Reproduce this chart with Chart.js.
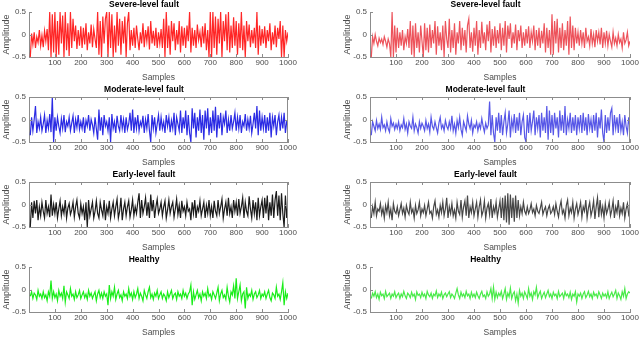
<!DOCTYPE html>
<html>
<head>
<meta charset="utf-8">
<script src="https://cdn.jsdelivr.net/npm/chart.js@4"></script>
<style>
  html, body { margin: 0; padding: 0; background: #fff; }
  #wrap { position: relative; width: 640px; height: 340px; }
  #wrap canvas { position: absolute; }
</style>
</head>
<body>
<div id="wrap"></div>
<script>
(function () {
  'use strict';

  // one value every 5 samples, 200 per signal
  var sampleStep = 5;
  var xTicks = [100, 200, 300, 400, 500, 600, 700, 800, 900, 1000];
  var yTicks = [-0.5, 0, 0.5];

  var titles = ['Severe-level fault', 'Moderate-level fault', 'Early-level fault', 'Healthy'];

  // left column
  var severeA = [
    -.5,.02,-.22,.05,-.3,-.05,-.18,.1,-.25,-.02,-.28,.08,-.15,.12,-.35,.5,-.5,.45,-.4,.5,
    -.5,.3,-.45,.5,-.2,.42,-.5,.5,-.35,.25,-.48,.5,-.3,.35,-.15,.2,-.32,.1,-.25,.18,
    -.3,.15,-.22,.25,-.35,.05,-.2,.22,-.28,.12,-.1,-.3,.5,-.45,.3,-.5,.4,-.2,.35,.5,
    -.5,.5,-.3,.45,-.5,.2,-.4,.5,-.25,.35,-.45,.3,-.2,.4,-.5,.25,.5,-.35,.1,-.25,
    .15,-.3,.2,-.1,-.35,.05,-.2,.25,-.28,.1,-.15,.18,-.33,.3,-.2,.08,-.25,.15,-.3,.05,
    -.2,.12,-.3,.35,-.5,.5,-.3,.2,-.45,.3,-.15,.25,-.35,.1,-.22,.3,-.4,.18,-.25,.15,
    -.3,.2,-.15,.5,-.4,.15,-.25,.1,-.3,.22,-.12,.05,-.28,.18,-.2,.25,-.35,.1,-.5,.5,
    -.5,.5,-.3,.4,-.45,.35,-.2,.5,-.5,.3,-.15,.45,-.35,.5,-.4,.2,-.3,.38,-.25,.3,
    -.45,.25,-.3,.5,-.35,.2,-.5,.3,-.15,.22,-.28,.1,-.2,.15,-.3,.5,-.45,.2,-.25,.12,
    -.2,.18,-.3,.1,-.15,.25,-.35,.05,-.22,.2,-.28,.15,-.1,.3,-.5,.2,-.5,.1,-.15,.05
  ];
  var moderateA = [
    -.35,.05,-.25,0,.3,-.3,-.05,-.2,.05,-.25,-.1,.1,-.3,-.02,-.2,.12,-.28,.5,-.5,.05,
    -.25,.05,-.15,-.3,.02,-.2,.1,-.28,-.05,-.15,.05,-.25,-.08,.08,-.3,0,-.18,.1,-.22,-.05,
    -.2,.05,-.3,-.02,-.15,.1,-.25,0,-.12,-.3,.05,-.2,-.45,.22,-.25,.05,-.35,.1,-.15,-.05,
    -.25,.05,-.5,.12,-.2,-.05,-.3,.08,-.15,-.25,.1,-.2,0,-.3,.05,-.22,-.1,.15,-.25,.22,
    -.3,.05,-.2,.1,-.25,-.05,-.15,.08,-.3,0,-.2,.12,-.25,-.5,.1,-.2,.05,-.3,-.1,.1,
    -.25,.05,-.2,-.05,-.3,.1,-.15,.05,-.28,-.02,-.2,.15,-.35,.05,-.1,-.25,.2,-.3,.05,-.2,
    .2,-.35,.1,-.3,-.5,.25,-.2,.15,-.4,.05,-.25,.22,-.3,.1,-.45,.2,-.2,.25,-.35,.05,
    -.3,.2,-.25,.28,-.4,.1,-.2,.15,-.35,.05,-.1,.2,-.3,0,-.25,.1,-.2,-.05,.15,-.25,
    .05,-.2,.1,-.3,-.05,-.15,.12,-.25,0,-.2,.08,-.3,-.1,.15,-.2,.3,-.35,.2,-.25,.05,
    -.2,.1,-.3,.05,-.25,.15,-.4,.05,-.15,.1,-.35,-.05,.1,-.25,.05,-.2,.15,-.3,-.05,-.1
  ];
  var earlyA = [
    -.5,.05,-.3,.08,-.2,.1,-.35,-.05,-.25,.05,-.15,-.3,.1,-.2,-.05,-.28,.22,-.25,0,-.2,
    .05,-.3,-.1,.08,-.25,-.05,-.2,.1,-.3,-.08,.02,-.22,-.12,.05,-.28,-.05,.1,-.2,-.3,.02,
    -.2,-.05,-.35,.05,-.5,.1,-.25,-.1,.05,-.3,-.15,.08,-.2,-.3,.05,-.12,-.25,.1,-.35,-.05,
    -.2,.08,-.3,-.1,.05,-.25,-.05,.12,-.3,-.15,.15,-.35,-.1,.05,-.25,-.05,.08,-.28,-.12,.1,
    -.25,-.05,-.2,.05,.25,-.3,.1,-.2,-.05,.15,-.25,.05,-.3,.22,-.15,.1,-.3,-.05,.12,-.2,
    -.1,.05,-.25,-.05,.08,-.3,-.12,.1,-.2,-.05,.05,-.28,-.1,.12,-.22,-.02,-.3,.08,-.15,-.05,
    -.25,.05,-.15,-.1,-.35,.05,-.2,.1,-.3,-.05,-.15,.08,-.25,-.1,.05,-.3,-.02,-.2,.1,-.25,
    -.05,-.3,.08,-.15,-.25,.1,-.2,-.05,.12,-.3,-.1,.05,-.25,.15,-.2,-.05,-.3,.1,-.15,.05,
    -.25,.12,-.2,-.05,.15,-.3,.05,-.15,-.25,.18,-.1,-.3,.1,-.2,.05,-.35,.15,-.25,-.05,.1,
    -.3,.15,-.2,.2,-.35,.05,-.25,.22,-.3,.1,.3,-.25,.2,-.35,.25,-.2,-.5,.2,-.3,.05
  ];
  var healthyA = [
    -.15,-.05,-.2,-.08,-.12,-.22,-.02,-.15,-.1,-.2,-.05,-.18,-.12,-.25,-.05,-.15,.2,-.2,-.05,-.18,
    -.1,-.25,-.02,-.15,-.08,-.2,.08,-.28,-.05,-.12,-.2,.02,-.15,-.1,-.22,-.05,-.18,-.12,-.02,-.2,
    -.12,-.05,-.18,-.1,-.22,-.02,-.15,-.08,-.2,-.12,-.05,-.25,-.1,-.02,-.18,-.08,-.2,-.05,-.15,-.1,
    -.35,.1,-.2,-.05,-.15,.05,-.22,-.1,-.02,-.18,-.12,-.25,-.05,-.15,-.1,-.2,.02,-.15,-.08,-.22,
    -.05,-.18,-.1,.02,-.2,-.08,-.15,-.25,-.02,-.12,-.2,-.05,.05,-.18,-.1,-.22,-.08,-.15,-.02,-.2,
    -.12,-.05,-.2,-.1,-.15,-.25,-.05,-.18,-.1,-.02,-.2,-.12,-.08,-.22,-.05,-.15,-.1,-.2,-.02,-.15,
    -.08,-.2,-.1,-.05,.1,-.35,-.05,-.22,-.12,-.02,-.18,-.1,-.25,-.05,-.15,-.08,-.2,.02,-.15,-.1,
    -.22,-.05,-.12,-.2,-.08,.05,-.25,-.1,-.02,-.18,-.12,-.22,.05,-.15,-.28,-.05,-.12,.08,-.2,.25,
    -.2,-.05,.1,-.25,-.1,-.05,-.42,.05,-.2,-.1,-.15,-.02,-.22,-.1,-.05,-.18,-.12,-.02,-.2,-.1,
    -.15,-.05,-.2,-.1,-.02,-.18,-.25,-.08,-.12,-.2,.05,-.15,-.1,-.22,-.05,.15,-.35,-.05,-.2,-.08
  ];

  // right column
  var severeB = [
    -.5,-.05,-.2,0,-.15,-.25,-.08,-.18,-.1,-.22,-.05,-.15,-.28,-.1,-.2,-.5,.5,-.5,.2,-.4,
    .15,-.3,.05,-.25,.1,-.35,-.05,-.2,.12,-.3,.3,-.45,.2,-.5,.25,-.3,.05,-.4,.2,-.15,
    -.5,.25,-.35,.15,-.4,.22,-.3,.1,-.2,.3,-.45,.18,-.25,.05,-.35,.2,-.5,.3,-.1,-.3,
    .35,-.4,.1,-.3,.25,-.45,.05,-.2,.3,-.35,.15,-.25,.1,-.4,.2,.35,-.3,.05,-.38,.15,
    -.25,.3,-.45,.1,-.3,.28,-.2,.05,-.35,.22,-.15,.3,-.4,.12,-.25,.18,-.3,.1,-.2,.25,
    -.35,.15,-.25,.3,-.4,.2,-.1,.25,-.3,.05,-.2,.22,-.35,.1,-.15,.2,-.3,.05,-.25,.12,
    -.2,.18,-.3,.05,-.15,.2,-.35,.1,-.25,.15,-.3,.08,-.2,.25,-.4,.15,-.3,.1,-.45,.45,
    -.45,.3,-.2,.35,-.4,.15,-.3,.25,-.35,.1,-.25,.3,-.45,.4,-.3,.2,-.35,.15,-.2,.05,
    -.25,.1,-.2,.05,-.3,.15,-.15,-.05,-.25,.12,-.2,0,-.28,.1,-.15,.05,-.22,.15,-.3,.05,
    -.2,.08,-.25,0,-.15,-.28,.05,-.2,-.08,-.25,0,-.18,-.1,-.3,.05,-.2,-.12,.05,-.25,-.15
  ];
  var moderateB = [
    -.35,-.05,-.15,-.25,-.02,-.2,-.1,-.22,.05,-.18,-.12,-.25,-.05,-.2,-.28,.02,-.15,-.08,-.22,-.1,
    -.2,-.05,-.25,-.12,-.18,.02,-.22,-.1,-.3,-.05,-.15,-.2,.05,-.25,-.1,-.18,-.3,-.05,-.2,-.08,
    -.15,-.25,-.02,-.2,-.1,-.28,.05,-.15,-.22,-.05,-.18,-.3,-.08,.05,-.2,-.12,-.25,-.02,-.15,-.22,
    -.05,-.2,.08,-.25,-.1,-.3,-.02,-.18,.05,-.22,-.35,-.05,-.15,-.25,.08,-.1,-.2,-.02,-.3,-.12,
    -.18,-.05,-.25,-.1,-.2,.02,-.15,-.28,-.08,-.2,-.12,.4,-.35,.1,-.3,-.5,.05,-.25,.15,-.3,
    .1,-.35,-.05,.15,-.3,-.1,.2,-.4,0,-.2,.12,-.3,.05,-.25,.15,-.35,-.05,.1,-.4,-.5,
    .1,-.3,.15,-.25,-.05,.2,-.35,.05,-.2,.1,-.4,.15,-.25,.05,-.3,.3,-.45,.2,-.3,.1,
    -.35,.15,-.2,.05,-.4,.2,-.25,.1,-.3,.3,-.35,0,-.2,.15,-.3,.05,-.25,.1,-.35,.05,
    -.2,.1,-.3,.15,-.25,.05,-.35,.12,-.2,0,-.3,.1,-.25,.15,-.4,.05,-.2,.22,-.3,-.5,
    .1,-.3,.05,-.25,.15,.25,-.35,.1,-.2,.05,-.3,.12,-.25,-.05,-.35,.1,-.15,-.3,.05,-.2
  ];
  var earlyB = [
    -.3,-.05,-.2,.05,-.25,-.1,-.15,.02,-.22,-.08,-.3,-.02,-.18,.05,-.25,-.1,-.35,.02,-.15,-.2,
    -.05,-.25,-.12,.02,-.2,-.08,-.28,-.02,-.15,-.22,.05,-.18,-.1,-.3,-.02,-.2,-.12,.05,-.25,-.1,
    -.18,-.02,-.25,-.1,.05,-.2,-.15,-.3,-.05,.08,-.22,-.12,-.28,-.02,-.18,.05,-.25,-.1,.15,-.3,
    -.05,-.2,.02,-.25,-.12,-.3,.05,-.15,-.22,.1,-.28,-.05,.08,-.25,.2,-.3,-.05,-.18,.05,-.25,
    -.1,.05,-.28,-.05,.1,-.25,-.15,.08,-.3,-.08,.02,-.22,.12,-.3,-.05,-.18,.05,-.28,-.1,.08,
    -.3,.15,-.35,.2,-.4,.25,-.45,.22,-.3,.15,-.38,.2,-.3,.1,-.25,-.05,-.2,.05,-.15,-.22,
    -.05,-.2,-.12,.02,-.18,-.1,-.25,-.02,-.15,-.2,-.08,.05,-.22,-.12,-.05,-.25,-.1,-.02,-.2,-.15,
    -.05,-.22,.02,-.15,-.28,-.05,.08,-.2,-.12,-.3,-.02,.1,-.25,-.08,-.18,.05,-.3,-.1,.02,-.22,
    -.1,.05,-.28,-.05,-.15,.1,-.3,-.08,.05,-.25,-.12,.08,-.32,-.05,.15,-.28,.1,-.22,-.05,-.3,
    .02,-.2,-.1,.05,-.25,-.12,.08,-.3,-.05,-.18,.1,-.25,-.08,-.2,.05,-.3,-.1,.02,-.22,-.12
  ];
  var healthyB = [
    -.2,-.08,-.15,-.05,-.18,-.1,-.22,-.06,-.14,-.1,-.2,-.04,-.16,-.12,-.08,-.2,-.1,-.15,-.05,-.18,
    -.12,-.08,-.2,-.1,-.16,-.04,-.14,-.2,-.08,-.12,-.18,-.06,-.15,-.1,-.22,-.05,-.13,-.1,-.18,-.06,
    -.15,-.1,-.2,-.04,-.12,-.16,-.08,-.2,-.1,-.14,-.03,-.18,-.1,-.15,-.06,-.2,-.12,-.08,-.16,-.1,
    -.05,-.18,-.1,-.14,-.2,-.08,.02,-.12,-.2,-.06,-.15,-.1,-.18,-.04,-.14,-.1,-.2,-.06,-.16,-.1,
    -.18,-.06,-.14,-.2,-.1,-.04,-.16,-.12,-.2,-.05,-.15,-.1,.02,-.2,.05,-.22,-.06,-.18,-.08,-.14,
    -.04,-.2,-.1,.02,-.22,-.08,-.16,.03,-.2,-.1,-.05,-.25,-.1,-.3,-.02,-.15,-.08,-.2,-.05,-.12,
    -.2,.02,-.15,-.08,-.22,-.05,-.12,.05,-.18,-.1,-.04,-.2,-.12,-.06,-.18,-.1,-.02,-.16,-.1,-.2,
    -.06,-.14,-.1,-.2,-.04,-.16,-.12,-.08,-.2,-.05,-.14,-.1,-.18,-.06,-.22,-.1,-.15,-.05,-.28,-.1,
    -.15,-.08,-.2,-.1,-.05,-.18,-.12,-.04,-.16,-.1,-.2,-.06,-.14,-.1,-.18,-.05,-.12,-.2,-.08,-.15,
    -.1,-.18,-.05,-.2,-.12,-.06,-.16,-.1,-.02,-.2,-.08,-.14,-.22,-.05,-.15,.02,-.2,-.1,-.05,-.08
  ];

  var panels = [
    { col: 0, row: 0, title: titles[0], values: severeA,   color: 'rgba(255,0,0,0.85)',   box: false },
    { col: 0, row: 1, title: titles[1], values: moderateA, color: 'rgba(20,20,225,0.9)',  box: true },
    { col: 0, row: 2, title: titles[2], values: earlyA,    color: 'rgba(15,15,15,0.95)',  box: true },
    { col: 0, row: 3, title: titles[3], values: healthyA,  color: 'rgba(0,235,0,0.9)',    box: false },
    { col: 1, row: 0, title: titles[0], values: severeB,   color: 'rgba(232,40,50,0.8)',  box: false },
    { col: 1, row: 1, title: titles[1], values: moderateB, color: 'rgba(45,45,225,0.8)',  box: true },
    { col: 1, row: 2, title: titles[2], values: earlyB,    color: 'rgba(60,60,60,0.95)',  box: true },
    { col: 1, row: 3, title: titles[3], values: healthyB,  color: 'rgba(40,230,40,0.85)', box: false }
  ];

  var FONT = "'Liberation Sans', Arial, sans-serif";
  var AXIS = '#8c8c8c';
  var TEXT = '#4d4d4d';

  // matlab style ticks pointing inwards, plus the top/right edges when boxed
  var innerTicks = {
    id: 'innerTicks',
    afterDatasetsDraw: function (chart, args, opts) {
      var a = chart.chartArea;
      var sx = chart.scales.x;
      var sy = chart.scales.y;
      var ctx = chart.ctx;
      var len = 3;
      ctx.save();
      ctx.strokeStyle = AXIS;
      ctx.lineWidth = 1;
      ctx.beginPath();
      xTicks.forEach(function (t) {
        var px = Math.round(sx.getPixelForValue(t)) + 0.5;
        ctx.moveTo(px, a.bottom);
        ctx.lineTo(px, a.bottom - len);
        if (opts.box) {
          ctx.moveTo(px, a.top);
          ctx.lineTo(px, a.top + len);
        }
      });
      yTicks.forEach(function (t) {
        var py = Math.round(sy.getPixelForValue(t)) + 0.5;
        ctx.moveTo(a.left, py);
        ctx.lineTo(a.left + len, py);
        if (opts.box) {
          ctx.moveTo(a.right, py);
          ctx.lineTo(a.right - len, py);
        }
      });
      if (opts.box) {
        ctx.moveTo(a.left, a.top + 0.5);
        ctx.lineTo(a.right, a.top + 0.5);
        ctx.moveTo(a.right - 0.5, a.top);
        ctx.lineTo(a.right - 0.5, a.bottom);
      }
      ctx.stroke();
      ctx.restore();
    }
  };

  var wrap = document.getElementById('wrap');

  panels.forEach(function (p) {
    var canvas = document.createElement('canvas');
    canvas.width = 320;
    canvas.height = 85;
    canvas.style.left = (p.col * 320) + 'px';
    canvas.style.top = (p.row * 85) + 'px';
    wrap.appendChild(canvas);

    var points = p.values.map(function (v, i) {
      return { x: (i + 1) * sampleStep, y: v };
    });

    var left = p.col === 0 ? 0 : 21;
    var right = p.col === 0 ? 32 : 10;

    new Chart(canvas.getContext('2d'), {
      type: 'line',
      data: {
        datasets: [{
          data: points,
          borderColor: p.color,
          borderWidth: 1.2,
          pointRadius: 0,
          tension: 0
        }]
      },
      options: {
        responsive: false,
        animation: false,
        devicePixelRatio: 1,
        layout: { padding: { left: left, right: right, top: 0, bottom: 0 } },
        plugins: {
          legend: { display: false },
          tooltip: { enabled: false },
          title: {
            display: true,
            text: p.title,
            color: '#000',
            font: { family: FONT, size: 8.5, weight: 'bold', lineHeight: 1.2 },
            padding: { top: 0, bottom: 1.8 }
          },
          innerTicks: { box: p.box }
        },
        scales: {
          x: {
            type: 'linear',
            min: 0,
            max: 1000,
            grid: { display: false, drawTicks: false },
            border: { display: true, color: AXIS, width: 1 },
            afterFit: function (scale) { scale.height = 28; },
            afterBuildTicks: function (scale) {
              scale.ticks = xTicks.map(function (v) { return { value: v }; });
            },
            ticks: {
              autoSkip: false,
              maxRotation: 0,
              padding: 1,
              color: TEXT,
              font: { family: FONT, size: 8 },
              callback: function (v) { return String(v); }
            },
            title: {
              display: true,
              text: 'Samples',
              color: TEXT,
              font: { family: FONT, size: 8.5, lineHeight: 1.2 },
              padding: { top: 0, bottom: 1.9 }
            }
          },
          y: {
            min: -0.5,
            max: 0.5,
            grid: { display: false, drawTicks: false },
            border: { display: true, color: AXIS, width: 1 },
            afterFit: function (scale) { scale.width = 29; },
            afterBuildTicks: function (scale) {
              scale.ticks = yTicks.map(function (v) { return { value: v }; });
            },
            ticks: {
              padding: 3,
              color: TEXT,
              font: { family: FONT, size: 8 },
              callback: function (v) { return String(v); }
            },
            title: {
              display: true,
              text: 'Amplitude',
              color: TEXT,
              font: { family: FONT, size: 9, lineHeight: 1.2 },
              padding: { top: 1.6, bottom: 0 }
            }
          }
        }
      },
      plugins: [innerTicks]
    });
  });
})();
</script>
</body>
</html>
